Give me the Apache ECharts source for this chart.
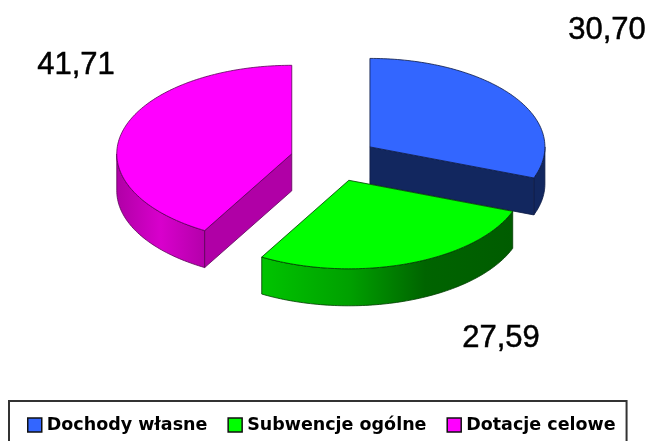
<!DOCTYPE html>
<html>
<head>
<meta charset="utf-8">
<script src="https://cdn.jsdelivr.net/npm/echarts@6/dist/echarts.min.js"></script>
<style>
    html, body { margin: 0; padding: 0; background: #fff; }
    #chart { width: 649px; height: 441px; }
</style>
</head>
<body>
<div id="chart"></div>
<script>
// --- Data ---
const categories = ['Dochody własne', 'Subwencje ogólne', 'Dotacje celowe'];
const values = [30.70, 27.59, 41.71];

// --- Styles ---
const topColors = ['#3366ff', '#00ff00', '#ff00ff'];
const faceColors = ['#12275f', '#006000', '#b000a6'];
const edgeColors = ['#0c1a44', '#003c00', '#5c0058'];
const wallStops = [
    [[0, '#12275f'], [1, '#12275f']],
    [[0, '#00c400'], [0.35, '#00a000'], [0.65, '#006400'], [1, '#005c00']],
    [[0, '#b000a6'], [0.5, '#d800cc'], [1, '#b400aa']]
];
const labelPos = [[607, 30], [501, 338], [76, 65]];

// --- Pie projection ---
const centerX = 334, centerY = 159.5;
const radiusX = 175, radiusY = 88.5;
const depth = 37, explode = 43.7;
const total = values.reduce((a, b) => a + b, 0);

// angles run clockwise from 12 o'clock, in radians
function sliceAngles(index) {
    const before = values.slice(0, index).reduce((a, b) => a + b, 0);
    return [before / total * 2 * Math.PI, (before + values[index]) / total * 2 * Math.PI];
}

function onRim(apex, angle, drop) {
    return [apex[0] + radiusX * Math.sin(angle), apex[1] - radiusY * Math.cos(angle) + drop];
}

function arcPoints(apex, from, to, drop) {
    const steps = Math.max(2, Math.ceil((to - from) / 0.02));
    const pts = [];
    for (let i = 0; i <= steps; i++) pts.push(onRim(apex, from + (to - from) * i / steps, drop));
    return pts;
}

function polygon(points, fill, stroke) {
    return { type: 'polygon', shape: { points: points }, style: { fill: fill, stroke: stroke, lineWidth: 0.8 } };
}

function renderSlice(index) {
    const [a, b] = sliceAngles(index);
    const mid = (a + b) / 2;
    const apex = [
        centerX + explode * Math.sin(mid),
        centerY - explode * Math.cos(mid) * radiusY / radiusX
    ];
    const stroke = edgeColors[index];
    const children = [];

    // outer wall, only the front half of the rim can be seen
    const wallFrom = Math.max(a, Math.PI / 2);
    const wallTo = Math.min(b, Math.PI * 1.5);
    if (wallTo > wallFrom) {
        const pts = arcPoints(apex, wallFrom, wallTo, 0)
            .concat(arcPoints(apex, wallFrom, wallTo, depth).reverse());
        // stops are given left to right on screen
        const fill = new echarts.graphic.LinearGradient(0, 0, 1, 0,
            wallStops[index].map(s => ({ offset: s[0], color: s[1] })));
        children.push(polygon(pts, fill, stroke));
    }

    // cut faces
    if (a > Math.PI) {
        const p = onRim(apex, a, 0);
        children.push(polygon([apex, p, [p[0], p[1] + depth], [apex[0], apex[1] + depth]], faceColors[index], stroke));
    }
    if (b < Math.PI) {
        const p = onRim(apex, b, 0);
        children.push(polygon([apex, p, [p[0], p[1] + depth], [apex[0], apex[1] + depth]], faceColors[index], stroke));
    }

    // top
    children.push(polygon([apex].concat(arcPoints(apex, a, b, 0)), topColors[index], stroke));

    // value label
    children.push({
        type: 'text',
        style: {
            text: values[index].toFixed(2).replace('.', ','),
            x: labelPos[index][0],
            y: labelPos[index][1],
            fill: '#000',
            stroke: '#000',
            lineWidth: 0.5,
            font: '31px "Liberation Sans"',
            align: 'center',
            verticalAlign: 'middle'
        }
    });
    return { type: 'group', children: children };
}

// blue goes first so the green top overlaps its wall
const series = categories.map((name, i) => ({
    name: name,
    type: 'custom',
    coordinateSystem: 'none',
    clip: false,
    silent: true,
    z: i === 1 ? 3 : 2,
    itemStyle: { color: topColors[i] },
    data: [[values[i]]],
    renderItem: () => renderSlice(i)
}));

const chart = echarts.init(document.getElementById('chart'));
chart.setOption({
    animation: false,
    backgroundColor: '#fff',
    legend: {
        left: 9,
        top: 401,
        orient: 'horizontal',
        data: categories,
        icon: 'rect',
        itemWidth: 14,
        itemHeight: 14,
        itemGap: 20,
        padding: [15, 11, 15, 18],
        borderColor: '#333',
        borderWidth: 2,
        backgroundColor: '#fff',
        itemStyle: { borderColor: '#111', borderWidth: 1.5 },
        textStyle: {
            color: '#000',
            fontFamily: '"DejaVu Sans"',
            fontWeight: 'bold',
            fontSize: 17.5
        }
    },
    series: series
});
</script>
</body>
</html>
